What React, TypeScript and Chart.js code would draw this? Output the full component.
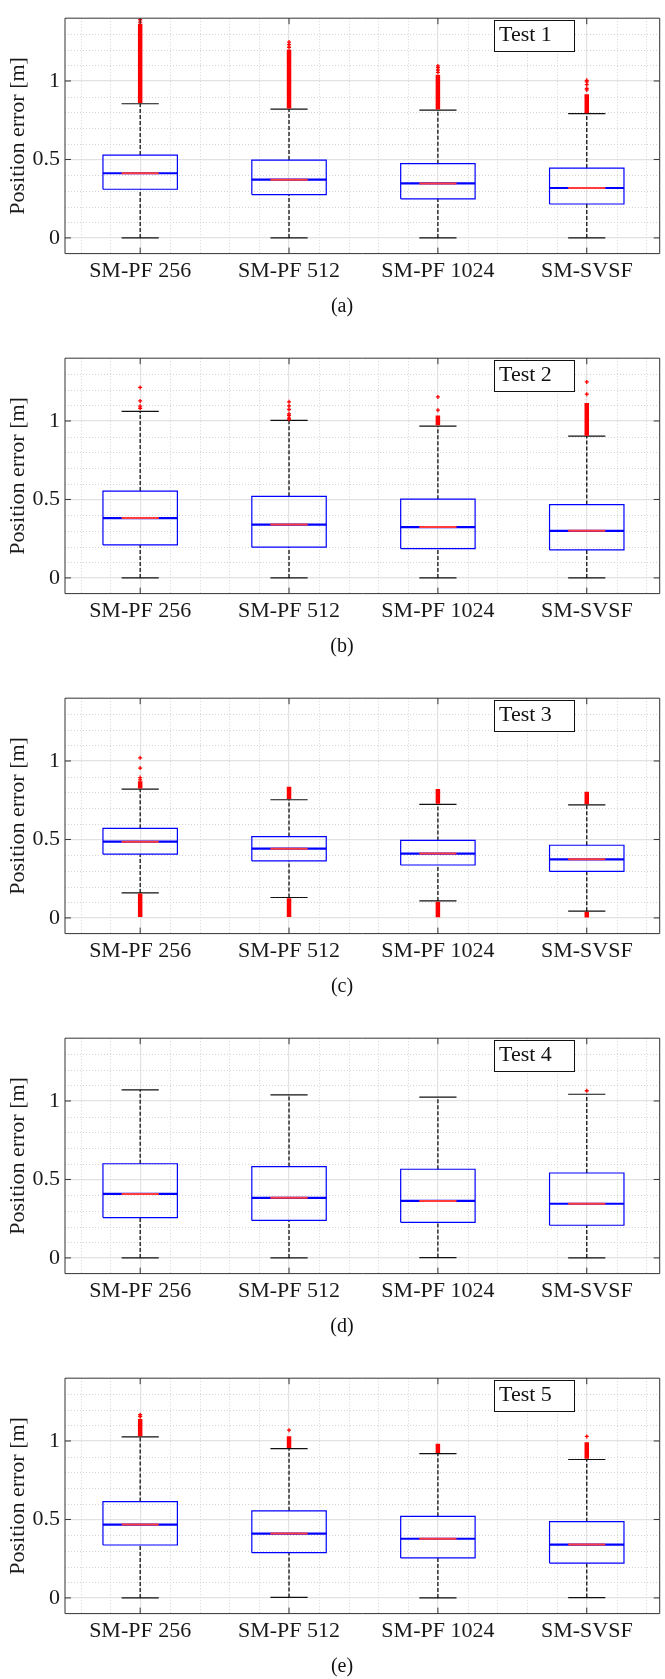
import React, { useEffect, useRef } from 'react';
import { Chart, registerables } from 'chart.js';

Chart.register(...registerables);

const FONT = '"Liberation Serif", "DejaVu Serif", "Times New Roman", serif';
Chart.defaults.font.family = FONT;
Chart.defaults.color = '#1a1a1a';

const categories = ['SM-PF 256', 'SM-PF 512', 'SM-PF 1024', 'SM-SVSF'];
const testLabels = ['Test 1', 'Test 2', 'Test 3', 'Test 4', 'Test 5'];
const captions = ['(a)', '(b)', '(c)', '(d)', '(e)'];
const yTickValues = [0, 0.5, 1];
const yAxisTitle = 'Position error [m]';

const q1Values = [
  [0.31, 0.276, 0.249, 0.216],
  [0.21, 0.196, 0.187, 0.178],
  [0.406, 0.363, 0.337, 0.296],
  [0.257, 0.239, 0.227, 0.208],
  [0.337, 0.288, 0.255, 0.222],
];
const medianValues = [
  [0.412, 0.371, 0.347, 0.318],
  [0.381, 0.34, 0.324, 0.3],
  [0.486, 0.441, 0.41, 0.373],
  [0.408, 0.383, 0.363, 0.345],
  [0.467, 0.41, 0.377, 0.34],
];
const q3Values = [
  [0.528, 0.496, 0.473, 0.445],
  [0.553, 0.52, 0.502, 0.467],
  [0.571, 0.518, 0.494, 0.463],
  [0.6, 0.582, 0.565, 0.541],
  [0.614, 0.555, 0.52, 0.486],
];
const lowerWhiskers = [
  [0, 0, 0, 0],
  [0, 0, 0, 0],
  [0.159, 0.13, 0.108, 0.043],
  [0, 0, 0.002, 0],
  [0, 0.003, 0, 0.002],
];
const upperWhiskers = [
  [0.855, 0.82, 0.814, 0.792],
  [1.061, 1.004, 0.967, 0.904],
  [0.82, 0.753, 0.724, 0.72],
  [1.071, 1.039, 1.024, 1.043],
  [1.026, 0.951, 0.92, 0.882],
];
// dense runs of outliers: [category index, from, to]
const outlierRuns = [
  [[0, 0.86, 1.365], [1, 0.825, 1.2], [2, 0.818, 1.04], [3, 0.795, 0.915]],
  [[2, 0.972, 1.035], [3, 0.906, 1.115]],
  [[0, 0.825, 0.87], [1, 0.757, 0.836], [2, 0.728, 0.822], [3, 0.724, 0.804],
   [0, 0.006, 0.155], [1, 0.006, 0.126], [2, 0.004, 0.103], [3, 0.003, 0.04]],
  [],
  [[0, 1.03, 1.14], [1, 0.955, 1.03], [2, 0.924, 0.982], [3, 0.886, 0.992]],
];
// single outliers: [category index, value]
const outlierPoints = [
  [[0, 1.375], [0, 1.39], [1, 1.215], [1, 1.232], [1, 1.248], [2, 1.055], [2, 1.07], [2, 1.085], [2, 1.096],
   [3, 0.943], [3, 0.953], [3, 0.977], [3, 0.994], [3, 1.004]],
  [[0, 1.081], [0, 1.094], [0, 1.128], [0, 1.214], [1, 1.012], [1, 1.018], [1, 1.035], [1, 1.045], [1, 1.073],
   [1, 1.096], [1, 1.122], [2, 1.069], [2, 1.153], [3, 1.171], [3, 1.249]],
  [[0, 0.88], [0, 0.894], [0, 0.955], [0, 1.02]],
  [[3, 1.065]],
  [[0, 1.155], [0, 1.167], [1, 1.069], [3, 1.029]],
];

const BOX_HALF = 0.25;
const CAP_HALF = 0.125;

type P = { x: number; y: number | null };

function seg(out: P[], x1: number, y1: number, x2: number, y2: number) {
  out.push({ x: x1, y: y1 }, { x: x2, y: y2 }, { x: x2, y: null });
}

function buildDatasets(t: number) {
  const whisk: P[] = [];
  const caps: P[] = [];
  const boxes: P[] = [];
  const medBlue: P[] = [];
  const medRed: P[] = [];
  categories.forEach((_, i) => {
    const x = i + 1;
    const q1 = q1Values[t][i];
    const q3 = q3Values[t][i];
    const md = medianValues[t][i];
    const lo = lowerWhiskers[t][i];
    const hi = upperWhiskers[t][i];
    seg(whisk, x, q3, x, hi);
    seg(whisk, x, lo, x, q1);
    seg(caps, x - CAP_HALF, hi, x + CAP_HALF, hi);
    seg(caps, x - CAP_HALF, lo, x + CAP_HALF, lo);
    boxes.push(
      { x: x - BOX_HALF, y: q1 },
      { x: x + BOX_HALF, y: q1 },
      { x: x + BOX_HALF, y: q3 },
      { x: x - BOX_HALF, y: q3 },
      { x: x - BOX_HALF, y: q1 },
      { x: x - BOX_HALF, y: null },
    );
    seg(medBlue, x - BOX_HALF, md, x + BOX_HALF, md);
    seg(medRed, x - CAP_HALF, md, x + CAP_HALF, md);
  });
  const runs: P[] = [];
  outlierRuns[t].forEach(([c, a, b]) => seg(runs, c + 1, a, c + 1, b));
  const pts = outlierPoints[t].map(([c, v]) => ({ x: c + 1, y: v }));

  const lineBase = { type: 'line', pointRadius: 0, spanGaps: false, tension: 0, fill: false };
  return [
    { ...lineBase, data: whisk, borderColor: '#111111', borderWidth: 1.3, borderDash: [4, 2], order: 7 },
    { ...lineBase, data: caps, borderColor: '#111', borderWidth: 1.2, order: 6 },
    { ...lineBase, data: boxes, borderColor: '#0000ff', borderWidth: 1.2, order: 5 },
    { ...lineBase, data: medBlue, borderColor: '#0000ff', borderWidth: 2.2, order: 4 },
    { ...lineBase, data: medRed, borderColor: '#ff3b3b', borderWidth: 2, order: 3 },
    { ...lineBase, data: runs, borderColor: '#ff0000', borderWidth: 4.5, borderCapStyle: 'butt', order: 2 },
    {
      type: 'scatter', data: pts, pointStyle: 'cross', pointRadius: 2, pointBorderWidth: 1.3,
      borderColor: '#ff0000', backgroundColor: '#ff0000', showLine: false, order: 1,
    },
  ];
}

const frameColor = '#333333';

const matlabPlugin = {
  id: 'matlabFrame',
  beforeDatasetsDraw(chart: any) {
    const { ctx, chartArea: a, scales } = chart;
    const xs = scales.x;
    const ys = scales.y;
    ctx.save();
    ctx.strokeStyle = '#d4d4d4';
    ctx.lineWidth = 1;
    ctx.setLineDash([1, 2]);
    for (let k = 6; k <= 44; k += 2) {
      if (k % 10 === 0) continue;
      const px = Math.round(xs.getPixelForValue(k / 10)) + 0.5;
      if (px <= a.left || px >= a.right) continue;
      ctx.beginPath();
      ctx.moveTo(px, a.top);
      ctx.lineTo(px, a.bottom);
      ctx.stroke();
    }
    for (let k = 1; k <= 13; k++) {
      if (k % 5 === 0) continue;
      const py = Math.round(ys.getPixelForValue(k / 10)) + 0.5;
      ctx.beginPath();
      ctx.moveTo(a.left, py);
      ctx.lineTo(a.right, py);
      ctx.stroke();
    }
    ctx.restore();
  },
  afterDatasetsDraw(chart: any, _args: any, opts: any) {
    const { ctx, chartArea: a, scales } = chart;
    const xs = scales.x;
    const ys = scales.y;
    ctx.save();
    ctx.setLineDash([]);
    ctx.strokeStyle = frameColor;
    ctx.lineWidth = 1;
    ctx.beginPath();
    ctx.moveTo(a.left, a.top);
    ctx.lineTo(a.right, a.top);
    ctx.moveTo(a.left, a.top);
    ctx.lineTo(a.left, a.bottom);
    ctx.lineTo(a.right, a.bottom);
    ctx.lineTo(a.right, a.top);
    ctx.stroke();
    // inward ticks
    const tl = 6;
    ctx.beginPath();
    yTickValues.forEach((v) => {
      const py = ys.getPixelForValue(v);
      ctx.moveTo(a.left, py);
      ctx.lineTo(a.left + tl, py);
      ctx.moveTo(a.right - tl, py);
      ctx.lineTo(a.right, py);
    });
    categories.forEach((_, i) => {
      const px = xs.getPixelForValue(i + 1);
      ctx.moveTo(px, a.top);
      ctx.lineTo(px, a.top + tl);
      ctx.moveTo(px, a.bottom);
      ctx.lineTo(px, a.bottom - tl);
    });
    ctx.stroke();
    // legend-like text box
    const bx = 494.5;
    const by = 20.5;
    ctx.fillStyle = '#ffffff';
    ctx.fillRect(bx, by, 80, 31);
    ctx.strokeStyle = '#111';
    ctx.strokeRect(bx, by, 80, 31);
    ctx.fillStyle = '#111';
    ctx.font = `22px ${FONT}`;
    ctx.textAlign = 'left';
    ctx.textBaseline = 'alphabetic';
    ctx.fillText(opts.label, bx + 4.5, 40.5);
    ctx.restore();
  },
  afterDraw(chart: any, _args: any, opts: any) {
    const { ctx } = chart;
    ctx.save();
    ctx.fillStyle = '#111';
    ctx.font = `20px ${FONT}`;
    ctx.textAlign = 'center';
    ctx.textBaseline = 'alphabetic';
    ctx.fillText(opts.caption, 342, 311.5);
    ctx.restore();
  },
};

function buildConfig(t: number) {
  return {
    type: 'line',
    data: { datasets: buildDatasets(t) },
    options: {
      animation: false,
      responsive: false,
      events: [],
      layout: { padding: { top: 9, left: 0, right: 0, bottom: 0 } },
      plugins: {
        legend: { display: false },
        tooltip: { enabled: false },
        title: { display: false },
        matlabFrame: { label: testLabels[t], caption: captions[t] },
      },
      scales: {
        x: {
          type: 'linear',
          position: 'bottom',
          min: 0.495,
          max: 4.49,
          afterBuildTicks: (s: any) => {
            s.ticks = categories.map((_, i) => ({ value: i + 1 }));
          },
          afterFit: (s: any) => {
            s.height = 86.4;
          },
          grid: { color: '#e2e2e2', lineWidth: 1.2, drawTicks: false },
          border: { display: false },
          ticks: {
            padding: 4,
            font: { size: 22, family: FONT },
            color: '#1a1a1a',
            maxRotation: 0,
            autoSkip: false,
            callback: (v: number) => categories[Math.round(v) - 1] ?? '',
          },
        },
        y: {
          type: 'linear',
          min: -0.1,
          max: 1.4,
          afterBuildTicks: (s: any) => {
            s.ticks = yTickValues.map((v) => ({ value: v }));
          },
          afterFit: (s: any) => {
            s.width = 65;
          },
          grid: { color: '#e2e2e2', lineWidth: 1.2, drawTicks: false },
          border: { display: false },
          ticks: {
            padding: 5,
            font: { size: 22, family: FONT },
            color: '#1a1a1a',
            callback: (v: number) => String(v),
          },
          title: {
            display: true,
            text: yAxisTitle,
            font: { size: 22, family: FONT },
            color: '#1a1a1a',
            padding: { top: 5, bottom: 0 },
          },
        },
      },
    },
    plugins: [matlabPlugin],
  };
}

function Panel({ idx }: { idx: number }) {
  const ref = useRef<HTMLCanvasElement | null>(null);
  useEffect(() => {
    if (!ref.current) return;
    const chart = new Chart(ref.current, buildConfig(idx) as any);
    return () => chart.destroy();
  }, [idx]);
  return (
    <canvas
      ref={ref}
      width={665}
      height={340}
      style={{ position: 'absolute', left: 0, top: idx * 340, width: 665, height: 340, display: 'block' }}
    />
  );
}

export default function App() {
  return (
    <div
      style={{
        position: 'absolute',
        left: 0,
        top: 0,
        width: 665,
        height: 1679,
        overflow: 'hidden',
        background: '#ffffff',
      }}
    >
      {testLabels.map((_, i) => (
        <Panel key={i} idx={i} />
      ))}
    </div>
  );
}
